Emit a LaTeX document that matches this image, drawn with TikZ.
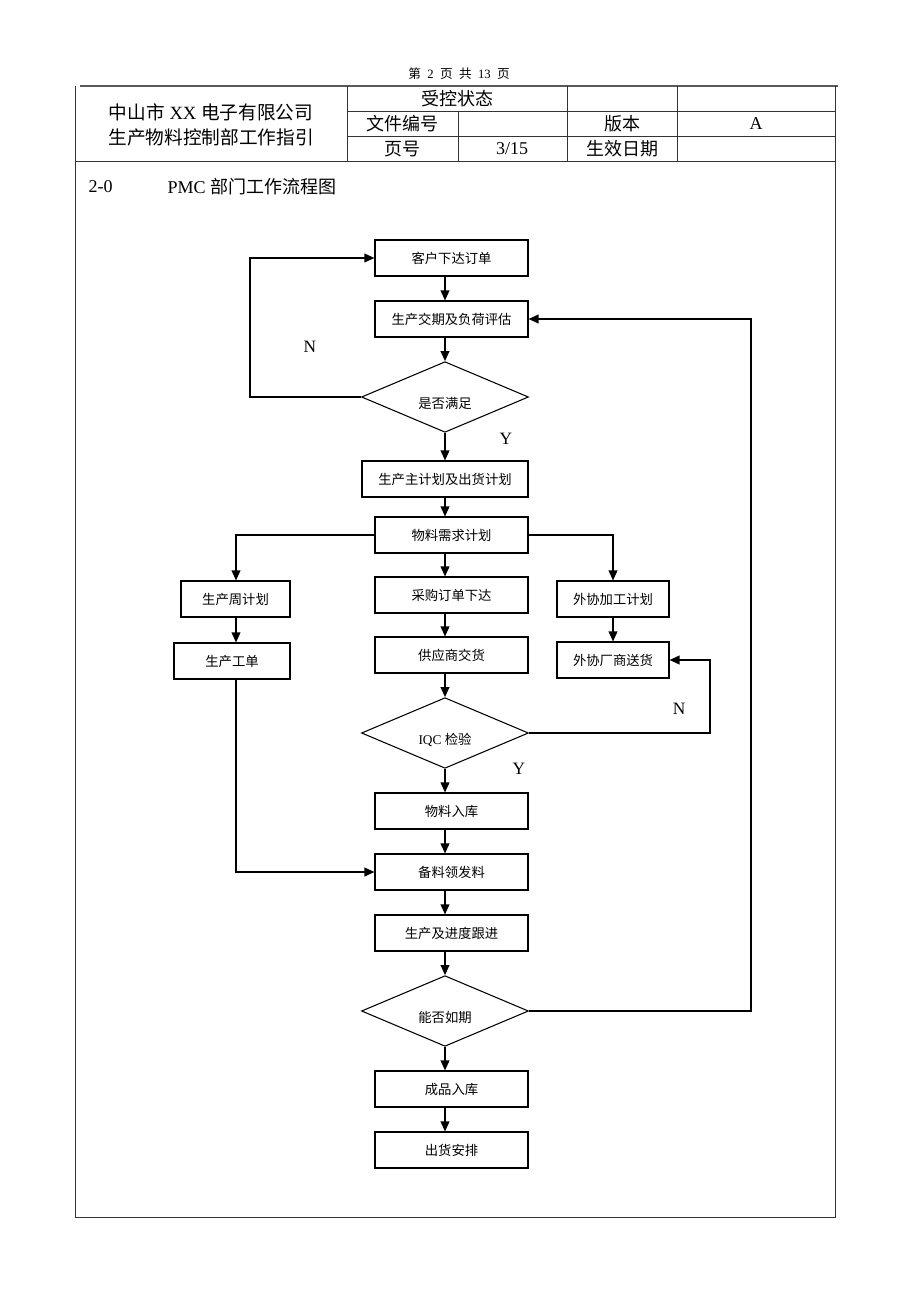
\documentclass[tikz,border=0pt]{standalone}
\usepackage{fontspec}
\setmainfont{Liberation Serif}
\newfontfamily\cjk{Noto Sans CJK SC}
\newcommand\zh[1]{{\cjk #1}}
\usetikzlibrary{shapes.geometric,arrows.meta}
\begin{document}
\begin{tikzpicture}[x=0.75pt,y=-0.75pt,
  box/.style={draw, line width=0.8pt, inner sep=0pt, minimum height=27pt, font=\cjk\fontsize{10}{12}\selectfont},
  cbox/.style={box, minimum width=114.75pt},
  dia/.style={draw, diamond, aspect=2.4, line width=0.8pt, inner sep=0pt, minimum width=125.25pt, minimum height=53pt},
  dtext/.style={font=\fontsize{10}{12}\selectfont},
  arr/.style={line width=1.2pt, -{Triangle[length=7.5pt,width=6.5pt]}},
  yn/.style={font=\fontsize{13}{15}\selectfont},
  hdr/.style={font=\fontsize{13.5}{16}\selectfont},
  tbl/.style={line width=0.6pt, black!80}]
\fill[white] (0,0) rectangle (920,1302);

% ---------- page header ----------
\node[font=\fontsize{9.5}{11}\selectfont] (pg) at (459,74) {\zh{第}\ \ 2\ \ \zh{页}\ \ \zh{共}\ \ 13\ \ \zh{页}};
\draw[line width=1.6pt, black!65] (80,86) -- (838,86);
\draw[tbl] (75,86) -- (75,1217) -- (835,1217) -- (835,86);
\draw[tbl] (75,161) -- (835,161);
\draw[tbl] (347,111) -- (835,111);
\draw[tbl] (347,136) -- (835,136);
\draw[tbl] (347,86) -- (347,161);
\draw[tbl] (567,86) -- (567,161);
\draw[tbl] (677,86) -- (677,161);
\draw[tbl] (458,111) -- (458,161);

\node[font=\fontsize{14}{16}\selectfont] (co1) at (211,112) {\zh{中山市} XX \zh{电子有限公司}};
\node[font=\fontsize{14}{16}\selectfont] (co2) at (211,137) {\zh{生产物料控制部工作指引}};
\node[hdr] (t1) at (457,99) {\zh{受控状态}};
\node[hdr] (t2) at (402,124) {\zh{文件编号}};
\node[hdr] (t3) at (622,124) {\zh{版本}};
\node[hdr] (t4) at (756,124) {A};
\node[hdr] (t5) at (402,149) {\zh{页号}};
\node[hdr] (t6) at (512,149) {3/15};
\node[hdr] (t7) at (622,149) {\zh{生效日期}};
\node[hdr, anchor=west] (sec) at (84,187) {2-0};
\node[hdr, anchor=west] (ttl) at (163,187) {PMC \zh{部门工作流程图}};

% ---------- flowchart ----------
\coordinate (ax) at (445,0);
\coordinate (lx) at (236,0);
\coordinate (nl) at (250,0);
\coordinate (nq) at (710,0);
\coordinate (nr) at (751,0);

\node[cbox] (c1) at (451.5,258) {客户下达订单};
\node[cbox] (c2) at (451.5,319) {生产交期及负荷评估};
\node[dia, label={[dtext, yshift=-4.5pt]center:\zh{是否满足}}] (d1) at (445,397) {};
\node[box, minimum width=124.5pt] (c3) at (445,479) {生产主计划及出货计划};
\node[cbox] (c4) at (451.5,535) {物料需求计划};
\node[cbox] (c5) at (451.5,595) {采购订单下达};
\node[cbox] (c6) at (451.5,655) {供应商交货};
\node[dia, label={[dtext, yshift=-5pt]center:IQC \zh{检验}}] (d2) at (445,733) {};
\node[cbox] (c7) at (451.5,811) {物料入库};
\node[cbox] (c8) at (451.5,872) {备料领发料};
\node[cbox] (c9) at (451.5,933) {生产及进度跟进};
\node[dia, label={[dtext, yshift=-4.5pt]center:\zh{能否如期}}] (d3) at (445,1011) {};
\node[cbox] (c10) at (451.5,1089) {成品入库};
\node[cbox] (c11) at (451.5,1150) {出货安排};

\node[box, minimum width=81.75pt] (l1) at (235.5,599) {生产周计划};
\node[box, minimum width=87pt] (l2) at (232,661) {生产工单};
\node[box, minimum width=84pt] (r1) at (613,599) {外协加工计划};
\node[box, minimum width=84pt] (r2) at (613,660) {外协厂商送货};

% main axis arrows
\draw[arr] (c1.south -| ax) -- (c2.north -| ax);
\draw[arr] (c2.south -| ax) -- (d1.north);
\draw[arr] (d1.south) -- (c3.north -| ax);
\draw[arr] (c3.south -| ax) -- (c4.north -| ax);
\draw[arr] (c4.south -| ax) -- (c5.north -| ax);
\draw[arr] (c5.south -| ax) -- (c6.north -| ax);
\draw[arr] (c6.south -| ax) -- (d2.north -| ax);
\draw[arr] (d2.south -| ax) -- (c7.north -| ax);
\draw[arr] (c7.south -| ax) -- (c8.north -| ax);
\draw[arr] (c8.south -| ax) -- (c9.north -| ax);
\draw[arr] (c9.south -| ax) -- (d3.north);
\draw[arr] (d3.south) -- (c10.north -| ax);
\draw[arr] (c10.south -| ax) -- (c11.north -| ax);

% branches
\draw[arr] (c4.west) -| (l1.north -| lx);
\draw[arr] (l1.south -| lx) -- (l2.north -| lx);
\draw[arr] (l2.south -| lx) |- (c8.west);
\draw[arr] (c4.east) -| (r1.north);
\draw[arr] (r1.south) -- (r2.north);

% loops
\draw[arr] (d1.west) -| (nl |- c1.west) -- (c1.west);
\draw[arr] (d2.east) -| (nq |- r2.east) -- (r2.east);
\draw[arr] (d3.east) -| (nr |- c2.east) -- (c2.east);

% labels
\node[yn] (n1) at (310,347) {N};
\node[yn] (y1) at (506,439) {Y};
\node[yn] (n2) at (679,709) {N};
\node[yn] (y2) at (519,769) {Y};
\end{tikzpicture}
\end{document}
